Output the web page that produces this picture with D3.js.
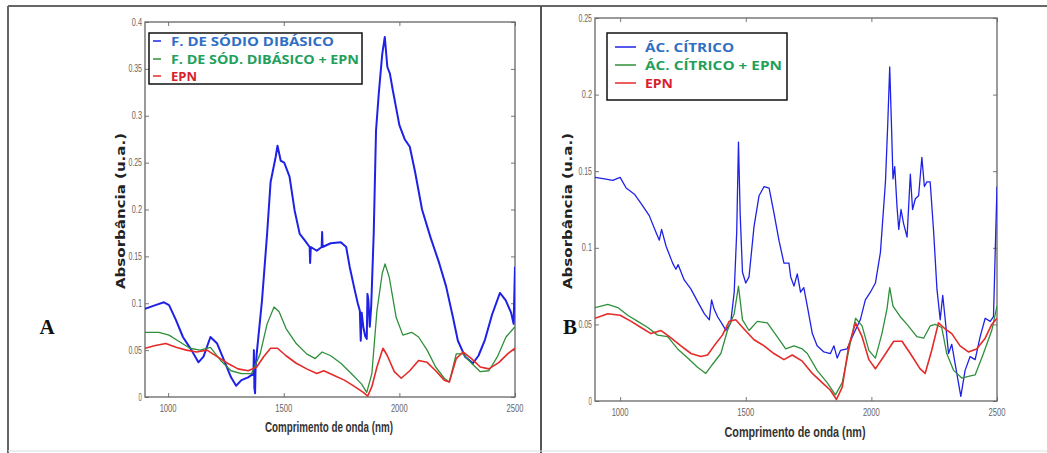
<!DOCTYPE html>
<html>
<head>
<meta charset="utf-8">
<script src="https://cdn.jsdelivr.net/npm/d3@7"></script>
<style>
  body { margin: 0; background: #fff; }
  svg { display: block; }
</style>
</head>
<body>
<svg id="chart" width="1047" height="453"></svg>
<script>
// ---- Shared axis data ----
const wavelengthTicks = [1000, 1500, 2000, 2500];
const absTicksA = [0, 0.05, 0.1, 0.15, 0.2, 0.25, 0.3, 0.35, 0.4];
const absTicksB = [0, 0.05, 0.1, 0.15, 0.2, 0.25];

// ---- Panel A: fosfato de sódio dibásico  [nm, absorbância] ----
const fosfatoSodio = [
  [900,0.094],[945,0.098],[982,0.101],[1004,0.098],[1034,0.082],[1064,0.064],[1101,0.050],
  [1131,0.037],[1153,0.043],[1183,0.064],[1212,0.057],[1242,0.039],[1272,0.021],[1294,0.012],
  [1317,0.018],[1346,0.021],[1369,0.025],[1371,0.050],[1373,0.010],[1376,0.004],[1378,0.030],
  [1383,0.046],[1406,0.103],[1428,0.174],[1443,0.229],[1465,0.256],[1473,0.268],[1487,0.252],
  [1502,0.250],[1525,0.235],[1547,0.199],[1569,0.174],[1591,0.167],[1612,0.160],[1614,0.143],
  [1617,0.160],[1643,0.156],[1664,0.160],[1666,0.176],[1668,0.160],[1703,0.164],[1747,0.165],
  [1770,0.160],[1785,0.139],[1807,0.114],[1820,0.100],[1829,0.092],[1833,0.060],[1837,0.090],
  [1844,0.075],[1852,0.065],[1859,0.062],[1862,0.110],[1866,0.103],[1872,0.075],[1878,0.096],
  [1889,0.174],[1899,0.284],[1911,0.324],[1926,0.366],[1937,0.384],[1948,0.352],[1959,0.345],
  [1971,0.328],[1990,0.303],[2000,0.290],[2023,0.275],[2045,0.267],[2068,0.240],[2098,0.200],
  [2135,0.170],[2172,0.143],[2202,0.118],[2230,0.087],[2253,0.060],[2284,0.043],[2318,0.036],
  [2342,0.044],[2370,0.061],[2401,0.088],[2435,0.111],[2460,0.103],[2483,0.090],[2494,0.078],
  [2500,0.139]
];
const fosfatoSodioEpn = [
  [900,0.069],[960,0.069],[1004,0.066],[1049,0.059],[1094,0.052],[1138,0.050],[1183,0.053],
  [1227,0.039],[1272,0.028],[1317,0.025],[1361,0.025],[1398,0.046],[1428,0.078],[1458,0.096],
  [1480,0.091],[1510,0.073],[1554,0.057],[1599,0.046],[1636,0.041],[1666,0.048],[1703,0.044],
  [1747,0.036],[1792,0.025],[1836,0.014],[1859,0.005],[1881,0.025],[1903,0.092],[1926,0.132],
  [1938,0.142],[1956,0.128],[1986,0.085],[2015,0.066],[2053,0.069],[2083,0.064],[2120,0.050],
  [2157,0.032],[2194,0.020],[2216,0.016],[2246,0.046],[2275,0.046],[2312,0.036],[2350,0.027],
  [2387,0.028],[2424,0.043],[2461,0.064],[2500,0.075]
];
const epnA = [
  [900,0.052],[945,0.055],[990,0.057],[1034,0.053],[1079,0.050],[1123,0.048],[1168,0.050],
  [1212,0.043],[1257,0.036],[1302,0.030],[1346,0.028],[1383,0.032],[1413,0.043],[1443,0.052],
  [1473,0.052],[1510,0.044],[1554,0.036],[1599,0.030],[1643,0.025],[1673,0.028],[1718,0.023],
  [1762,0.018],[1807,0.011],[1844,0.005],[1863,0.001],[1881,0.011],[1903,0.032],[1929,0.052],
  [1948,0.044],[1978,0.027],[2008,0.020],[2045,0.028],[2083,0.039],[2120,0.037],[2157,0.028],
  [2194,0.018],[2216,0.016],[2246,0.041],[2275,0.048],[2312,0.041],[2350,0.032],[2387,0.030],
  [2431,0.037],[2468,0.046],[2500,0.052]
];

// ---- Panel B: ácido cítrico  [nm, absorbância] ----
const acidoCitrico = [
  [900,0.146],[938,0.145],[971,0.144],[1000,0.146],[1024,0.139],[1057,0.135],[1083,0.129],
  [1116,0.121],[1143,0.110],[1156,0.105],[1165,0.112],[1183,0.101],[1209,0.090],[1222,0.086],
  [1231,0.089],[1255,0.079],[1282,0.073],[1308,0.065],[1335,0.057],[1355,0.053],[1364,0.066],
  [1374,0.060],[1388,0.055],[1407,0.050],[1421,0.046],[1440,0.051],[1454,0.071],[1464,0.110],
  [1471,0.169],[1478,0.121],[1487,0.084],[1500,0.077],[1513,0.081],[1533,0.114],[1553,0.134],
  [1573,0.140],[1593,0.139],[1612,0.123],[1632,0.105],[1652,0.090],[1672,0.090],[1679,0.081],
  [1692,0.075],[1705,0.083],[1718,0.071],[1731,0.074],[1745,0.062],[1765,0.044],[1784,0.036],
  [1811,0.032],[1837,0.031],[1851,0.036],[1864,0.028],[1877,0.033],[1903,0.034],[1930,0.044],
  [1956,0.053],[1976,0.066],[1996,0.071],[2016,0.077],[2036,0.097],[2056,0.143],[2065,0.180],
  [2073,0.218],[2080,0.180],[2086,0.145],[2093,0.153],[2102,0.127],[2109,0.112],[2118,0.125],
  [2128,0.116],[2142,0.107],[2155,0.148],[2164,0.125],[2175,0.132],[2188,0.134],[2201,0.159],
  [2211,0.140],[2221,0.143],[2234,0.143],[2248,0.110],[2261,0.073],[2274,0.053],[2284,0.069],
  [2294,0.053],[2307,0.031],[2320,0.037],[2340,0.018],[2356,0.003],[2373,0.020],[2393,0.029],
  [2413,0.027],[2433,0.042],[2453,0.054],[2473,0.052],[2486,0.055],[2495,0.110],[2500,0.140]
];
const acidoCitricoEpn = [
  [900,0.061],[951,0.063],[991,0.061],[1030,0.056],[1070,0.052],[1110,0.048],[1149,0.043],
  [1189,0.042],[1229,0.034],[1269,0.028],[1308,0.022],[1341,0.018],[1368,0.024],[1401,0.031],
  [1427,0.046],[1454,0.057],[1471,0.075],[1487,0.053],[1513,0.046],[1546,0.052],[1586,0.051],
  [1625,0.042],[1659,0.034],[1692,0.036],[1725,0.034],[1745,0.031],[1784,0.020],[1824,0.012],
  [1857,0.004],[1884,0.012],[1910,0.033],[1937,0.054],[1963,0.049],[1990,0.033],[2016,0.028],
  [2042,0.044],[2062,0.060],[2073,0.074],[2086,0.062],[2115,0.055],[2142,0.050],[2181,0.042],
  [2208,0.041],[2234,0.049],[2254,0.050],[2280,0.048],[2300,0.031],[2327,0.020],[2360,0.015],
  [2386,0.016],[2413,0.017],[2446,0.031],[2479,0.046],[2500,0.062]
];
const epnB = [
  [900,0.054],[951,0.057],[1000,0.056],[1044,0.052],[1083,0.048],[1123,0.044],[1163,0.046],
  [1196,0.042],[1242,0.036],[1282,0.031],[1321,0.029],[1348,0.030],[1374,0.036],[1407,0.043],
  [1434,0.052],[1460,0.053],[1493,0.047],[1533,0.040],[1573,0.036],[1612,0.031],[1652,0.027],
  [1685,0.030],[1725,0.026],[1765,0.018],[1804,0.012],[1837,0.007],[1861,0.001],[1884,0.009],
  [1910,0.036],[1937,0.051],[1963,0.042],[1990,0.027],[2016,0.021],[2049,0.029],[2089,0.039],
  [2122,0.039],[2155,0.031],[2194,0.021],[2214,0.018],[2240,0.033],[2267,0.051],[2294,0.047],
  [2320,0.044],[2353,0.036],[2386,0.032],[2419,0.034],[2453,0.041],[2479,0.050],[2500,0.054]
];

// ---- Legend text ----
const legendA = ["F. DE SÓDIO DIBÁSICO", "F. DE SÓD. DIBÁSICO + EPN", "EPN"];
const legendB = ["ÁC. CÍTRICO", "ÁC. CÍTRICO + EPN", "EPN"];

const lineColors = ["#1f22e6", "#2f8f3a", "#e52a2a"];
const textColors = ["#2f6fc4", "#22a05a", "#d8202e"];

const svg = d3.select("#chart");

// Outer frame and panel divider
svg.append("line").attr("x1", 8).attr("x2", 1047).attr("y1", 6).attr("y2", 6)
  .attr("stroke", "#666").attr("stroke-width", 2);
svg.append("line").attr("x1", 8).attr("x2", 8).attr("y1", 6).attr("y2", 453)
  .attr("stroke", "#666").attr("stroke-width", 2);
svg.append("line").attr("x1", 541).attr("x2", 541).attr("y1", 6).attr("y2", 453)
  .attr("stroke", "#555").attr("stroke-width", 2);
svg.append("line").attr("x1", 8).attr("x2", 1047).attr("y1", 451).attr("y2", 451)
  .attr("stroke", "#ddd").attr("stroke-width", 1);

function fmt(v) { return v === 0 ? "0" : String(+v.toFixed(2)); }

function drawPanel(cfg) {
  const x = d3.scaleLinear().domain([900, 2500]).range([cfg.x0, cfg.x1]);
  const y = d3.scaleLinear().domain([0, cfg.yMax]).range([cfg.y1, cfg.y0]);
  const g = svg.append("g");

  const clipId = "clip" + cfg.id;
  svg.append("clipPath").attr("id", clipId).append("rect")
    .attr("x", cfg.x0).attr("y", cfg.y0 - 2).attr("width", cfg.x1 - cfg.x0).attr("height", cfg.y1 - cfg.y0 + 2);

  // Inward ticks on all four sides (box style)
  const tl = 4;
  const axB = d3.axisTop(x).tickValues(wavelengthTicks).tickSize(tl).tickFormat("");
  const axT = d3.axisBottom(x).tickValues(wavelengthTicks).tickSize(tl).tickFormat("");
  const axL = d3.axisRight(y).tickValues(cfg.yTicks).tickSize(tl).tickFormat("");
  const axR = d3.axisLeft(y).tickValues(cfg.yTicks).tickSize(tl).tickFormat("");
  [[axB, `translate(0,${cfg.y1})`], [axT, `translate(0,${cfg.y0})`],
   [axL, `translate(${cfg.x0},0)`], [axR, `translate(${cfg.x1},0)`]].forEach(([ax, tr]) => {
    const a = g.append("g").attr("transform", tr).call(ax);
    a.select(".domain").remove();
    a.selectAll("line").attr("stroke", "#777");
  });

  // Plot frame
  g.append("rect").attr("x", cfg.x0).attr("y", cfg.y0)
    .attr("width", cfg.x1 - cfg.x0).attr("height", cfg.y1 - cfg.y0)
    .attr("fill", "none").attr("stroke", "#666").attr("stroke-width", 1.3);

  // Tick labels (condensed grey digits)
  g.selectAll(".yl").data(cfg.yTicks).join("text")
    .attr("x", cfg.x0 - 3).attr("y", d => y(d) + 3.5)
    .attr("text-anchor", "end")
    .attr("font-family", "Liberation Sans Narrow, Arial Narrow, sans-serif")
    .attr("font-size", 10.5).attr("fill", "#666")
    .attr("textLength", d => fmt(d).length * 3.4).attr("lengthAdjust", "spacingAndGlyphs")
    .text(d => fmt(d));
  g.selectAll(".xl").data(wavelengthTicks).join("text")
    .attr("x", d => x(d)).attr("y", cfg.y1 + 15)
    .attr("text-anchor", "middle")
    .attr("font-family", "Liberation Sans Narrow, Arial Narrow, sans-serif")
    .attr("font-size", 10.5).attr("fill", "#666")
    .attr("textLength", 17).attr("lengthAdjust", "spacingAndGlyphs")
    .text(d => d);

  // Axis titles
  g.append("text")
    .attr("x", cfg.xTitleX).attr("y", cfg.xTitleY)
    .attr("text-anchor", "middle")
    .attr("font-family", "Liberation Sans Narrow, Arial Narrow, sans-serif")
    .attr("font-weight", "bold").attr("font-size", 14).attr("fill", "#333")
    .attr("textLength", cfg.xTitleW).attr("lengthAdjust", "spacingAndGlyphs")
    .text("Comprimento de onda (nm)");
  g.append("text")
    .attr("transform", `translate(${cfg.yTitleX},${cfg.yTitleY}) rotate(-90)`)
    .attr("text-anchor", "middle")
    .attr("font-family", "DejaVu Sans, sans-serif")
    .attr("font-weight", "bold").attr("font-size", 11.5).attr("fill", "#222")
    .attr("textLength", 156).attr("lengthAdjust", "spacingAndGlyphs")
    .text("Absorbância (u.a.)");

  // Spectra
  const line = d3.line().x(d => x(d[0])).y(d => y(d[1]));
  const plot = g.append("g").attr("clip-path", `url(#${clipId})`);
  cfg.series.forEach((s, i) => {
    plot.append("path").datum(s)
      .attr("fill", "none").attr("stroke", lineColors[i])
      .attr("stroke-width", cfg.widths[i]).attr("stroke-linejoin", "round")
      .attr("d", line);
  });

  // Legend
  const L = cfg.legend;
  g.append("rect").attr("x", L.x).attr("y", L.y).attr("width", L.w).attr("height", L.h)
    .attr("fill", "#fff").attr("stroke", "#111").attr("stroke-width", 1.5);
  cfg.labels.forEach((t, i) => {
    const yy = L.rows[i];
    g.append("line").attr("x1", L.sx0).attr("x2", L.sx1).attr("y1", yy).attr("y2", yy)
      .attr("stroke", lineColors[i]).attr("stroke-width", 1.5);
    g.append("text").attr("x", L.tx).attr("y", yy + 4.5)
      .attr("font-family", "Open Sans, sans-serif").attr("font-weight", "bold")
      .attr("font-size", 12).attr("fill", textColors[i])
      .attr("textLength", L.lens[i]).attr("lengthAdjust", "spacingAndGlyphs")
      .text(t);
  });

  // Panel letter
  g.append("text").attr("x", cfg.letterX).attr("y", 334)
    .attr("text-anchor", "middle")
    .attr("font-family", "Liberation Serif, Times New Roman, serif")
    .attr("font-weight", "bold").attr("font-size", 21).attr("fill", "#111")
    .text(cfg.id);
}

drawPanel({
  id: "A", x0: 145, x1: 515, y0: 22, y1: 397, yMax: 0.4, yTicks: absTicksA,
  series: [fosfatoSodio, fosfatoSodioEpn, epnA], widths: [2.0, 1.3, 1.6],
  labels: legendA,
  legend: { x: 149, y: 33, w: 213, h: 51, rows: [41, 59, 76], sx0: 153, sx1: 161, tx: 171,
            lens: [163, 188, 26] },
  xTitleX: 329, xTitleY: 432, xTitleW: 128, yTitleX: 125, yTitleY: 211, letterX: 47
});

drawPanel({
  id: "B", x0: 595, x1: 997, y0: 18, y1: 401, yMax: 0.25, yTicks: absTicksB,
  series: [acidoCitrico, acidoCitricoEpn, epnB], widths: [1.3, 1.3, 1.6],
  labels: legendB,
  legend: { x: 607, y: 33, w: 180, h: 67, rows: [47, 65, 83], sx0: 615, sx1: 636, tx: 645,
            lens: [89, 137, 28] },
  xTitleX: 795, xTitleY: 437, xTitleW: 141, yTitleX: 572, yTitleY: 211, letterX: 570
});
</script>
</body>
</html>
